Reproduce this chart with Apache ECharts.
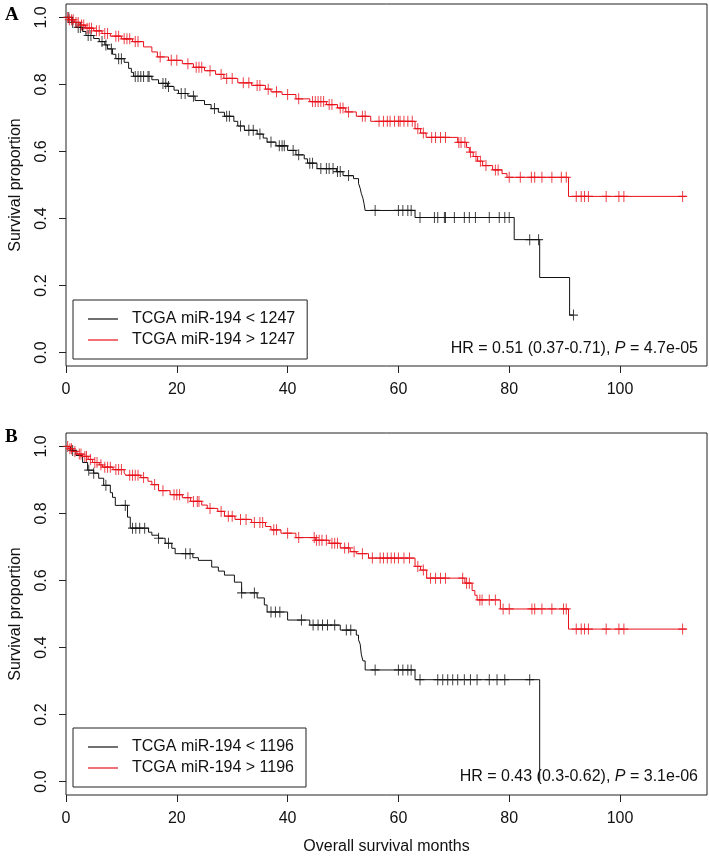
<!DOCTYPE html>
<html>
<head>
<meta charset="utf-8">
<script src="https://cdn.jsdelivr.net/npm/echarts@6/dist/echarts.min.js"></script>
<style>
  html, body { margin: 0; padding: 0; background: #fff; }
  #main { width: 709px; height: 856px; }
</style>
</head>
<body>
<div id="main"></div>
<script>
// tick labels
var xTicks = [0, 20, 40, 60, 80, 100];
var yTicks = [0, 0.2, 0.4, 0.6, 0.8, 1.0];

// panel A : events [months, survival after event], censor times, end of follow-up
var aLowName = 'TCGA miR-194 < 1247';
var aHighName = 'TCGA miR-194 > 1247';
var aLowEvents = [[1,0.985],[1.8,0.97],[3,0.958],[3.6,0.946],[5,0.937],[6,0.928],[7,0.918],[7.5,0.906],[8.4,0.89],[9,0.877],[10.5,0.866],[11.3,0.848],[11.8,0.836],[12.2,0.824],[15.5,0.814],[16.7,0.803],[18.3,0.794],[19.5,0.783],[20.3,0.773],[22,0.765],[23.3,0.752],[25,0.74],[26.2,0.728],[27.5,0.717],[28.6,0.705],[30.3,0.69],[31,0.676],[32.2,0.663],[34.5,0.652],[35.6,0.64],[36.3,0.628],[37.9,0.617],[40,0.603],[41.5,0.59],[43,0.578],[43.6,0.565],[45.3,0.549],[48.8,0.54],[50,0.528],[51.9,0.519],[52.8,0.505],[53.1,0.49],[53.3,0.475],[53.6,0.46],[53.8,0.444],[54,0.424],[63,0.403],[80.9,0.337],[85.5,0.224],[90.9,0.112]];
var aLowCensor = [0.5,1.2,2.2,2.6,4,4.5,6.5,7.2,8.2,9.5,10,12.5,13,13.5,14,14.8,15,17.5,18,18.5,20.8,21.5,23,26.8,29,29.5,31.5,33,33.8,35,37,38.5,39,39.4,41,42,44,44.5,46,47,47.5,48.2,49,49.5,51,55.8,60,60.8,61.7,62.3,63.9,66.5,67.1,68.3,68.5,70.1,71.9,72.8,73.9,76.4,78.2,79.2,80,83.7,85.3,91.6];
var aLowEnd = 91.6;
var aHighEvents = [[0.5,0.993],[1.5,0.985],[2.5,0.977],[3.5,0.968],[5,0.96],[6.5,0.952],[8,0.944],[10,0.936],[12,0.928],[14,0.912],[15.5,0.897],[16.5,0.882],[18.5,0.872],[21,0.862],[23,0.851],[25,0.841],[27,0.83],[28.5,0.818],[31,0.805],[33.5,0.797],[36,0.786],[37,0.778],[39,0.77],[41.5,0.757],[44,0.749],[47,0.74],[49,0.73],[50.5,0.718],[52.4,0.705],[55,0.69],[63,0.668],[64,0.655],[65,0.642],[70.7,0.627],[72.3,0.612],[72.8,0.598],[73.5,0.585],[74.3,0.571],[75.2,0.558],[77,0.545],[78.7,0.534],[79.6,0.523],[90.7,0.466]];
var aHighCensor = [0.3,0.6,1,1.3,1.8,2.2,2.8,3.2,3.8,4.2,4.6,5.5,6,7,7.5,9,9.5,10.5,11,11.5,12.5,13,17,19,20,22,23.5,24,24.5,26,28,29,30,32,33,34.5,35,36.5,38,40,42,44.5,45,45.5,46,46.5,47.5,48,49.5,50,51,53.5,54,56.5,57.3,58,58.5,59.3,60,60.3,61,61.7,62.5,63.5,64.5,66,66.7,67.6,68.5,70.9,71.3,72,73,74,74.8,75.8,77.5,78,80,82,84,84.6,85.9,87.7,89.4,90.3,92.1,93,93.6,94.3,97.5,99.8,100.7,111.3];
var aHighEnd = 112;

// panel B
var bLowName = 'TCGA miR-194 < 1196';
var bHighName = 'TCGA miR-194 > 1196';
var bLowEvents = [[0.8,0.988],[1.8,0.973],[3,0.952],[3.9,0.929],[5,0.92],[5.9,0.905],[6.8,0.884],[8,0.862],[8.4,0.848],[8.9,0.824],[11.1,0.789],[11.6,0.756],[14.9,0.744],[15.5,0.735],[16.7,0.726],[17.9,0.711],[19.1,0.696],[19.7,0.68],[22.9,0.668],[23.9,0.66],[26.3,0.64],[27.5,0.628],[28.6,0.616],[30.4,0.595],[31.7,0.563],[34.5,0.548],[35.8,0.527],[36.3,0.506],[40,0.482],[44,0.467],[49.5,0.452],[52.4,0.437],[52.8,0.423],[53.1,0.41],[53.3,0.38],[53.6,0.36],[54,0.333],[63,0.304],[85.5,0]];
var bLowCensor = [1.2,4.1,5,7.2,10.7,12,12.6,13.3,14.2,16.7,18.5,21.6,22.4,31.7,34,37,37.8,38.6,42.5,44.6,45.5,46.3,47.2,48.5,50.6,51.4,55.8,60,60.8,61.7,62.3,63.9,67.1,68,68.9,69.8,70.7,71.9,73,74.2,76.4,77.8,79.2,83.7];
var bLowEnd = 85.5;
var bHighEvents = [[0.5,0.993],[1.2,0.985],[2,0.977],[3,0.97],[4,0.961],[4.8,0.952],[6,0.945],[6.6,0.938],[8.5,0.931],[10.5,0.921],[10.8,0.914],[13.5,0.907],[14.8,0.896],[15.5,0.886],[16.7,0.868],[18.8,0.856],[21,0.847],[22.5,0.836],[24.5,0.825],[25.5,0.815],[27.4,0.806],[28.6,0.792],[30.5,0.782],[33.5,0.773],[36,0.761],[37,0.751],[38.8,0.741],[41.5,0.728],[45,0.72],[47.5,0.711],[49.5,0.697],[51.3,0.686],[52.4,0.68],[54.6,0.667],[63,0.642],[64,0.631],[65.1,0.607],[72,0.592],[73.3,0.57],[73.8,0.556],[74.2,0.542],[78.4,0.515],[90.7,0.455]];
var bHighCensor = [0.3,0.7,1,1.6,2.4,2.7,3.4,3.7,4.4,5.2,5.6,6.3,7,7.5,8,9,9.5,10,11.5,12,12.5,13,14,16,17.5,19.5,20,20.5,22,23,23.7,24,26,28,29.3,30,31.5,32.5,34,35,35.5,37.5,38,40,42,44.8,45.2,45.7,46.2,47,48,48.5,49,50.3,51,52,53.5,55.3,56.7,57.3,58,58.7,59.3,60,61,62,63.5,64.5,65.8,66.7,67.6,68.5,71.6,72.3,72.8,74.7,75.1,76.4,77.5,78.9,80,84.1,84.6,85.9,87.7,89.8,90.3,92.1,93,93.6,94.3,97.5,99.8,100.7,111.3];
var bHighEnd = 112;

var RED = '#e8101a';
var BLACK = '#111';
var FONT = 'Liberation Sans, Arial, sans-serif';

// KM step curve: start at 1, drop at each event, run on to the end
function stepData(events, end) {
    var d = [[0, 1]];
    events.forEach(function (e) { d.push([e[0], e[1]]); });
    var last = d[d.length - 1];
    if (end > last[0]) d.push([end, last[1]]);
    return d;
}

// censor mark sits on the curve at its time
function censorData(events, times) {
    return times.map(function (t) {
        var s = 1;
        for (var i = 0; i < events.length; i++) {
            if (events[i][0] <= t) s = events[i][1];
        }
        return [t, s];
    });
}

var plus = 'path://M0,5L10,5M5,0L5,10';

function curve(name, events, end, color, idx) {
    return {
        name: name,
        type: 'line',
        step: 'end',
        symbol: 'none',
        xAxisIndex: idx,
        yAxisIndex: idx,
        lineStyle: { color: color, width: 1 },
        itemStyle: { color: color },
        data: stepData(events, end),
        z: 2
    };
}

function marks(events, times, color, idx) {
    return {
        type: 'scatter',
        xAxisIndex: idx,
        yAxisIndex: idx,
        symbol: plus,
        symbolSize: [9, 11],
        itemStyle: { color: color, borderColor: color, borderWidth: 1.1 },
        data: censorData(events, times),
        silent: true,
        z: 3
    };
}

function xAxis(idx, withName) {
    return {
        type: 'value',
        gridIndex: idx,
        min: 0,
        max: 115.7,
        name: withName ? 'Overall survival months' : '',
        nameLocation: 'middle',
        nameGap: 44,
        nameTextStyle: { fontSize: 16, color: '#111', fontFamily: FONT },
        axisLine: { show: false, onZero: false },
        splitLine: { show: false },
        axisTick: { show: true, length: 7, customValues: xTicks, lineStyle: { color: '#222' } },
        axisLabel: { customValues: xTicks, fontSize: 16, color: '#111', fontFamily: FONT, margin: 16 }
    };
}

function yAxis(idx) {
    return {
        type: 'value',
        gridIndex: idx,
        min: -0.04,
        max: 1.04,
        name: 'Survival proportion',
        nameLocation: 'middle',
        nameGap: 42,
        nameTextStyle: { fontSize: 16, color: '#111', fontFamily: FONT },
        axisLine: { show: false, onZero: false },
        splitLine: { show: false },
        axisTick: { show: true, length: 7, customValues: yTicks, lineStyle: { color: '#222' } },
        axisLabel: {
            customValues: yTicks,
            rotate: 90,
            margin: 16,
            fontSize: 16,
            color: '#111',
            fontFamily: FONT,
            formatter: function (v) { return v.toFixed(1); }
        }
    };
}

function legend(top, names) {
    return {
        orient: 'vertical',
        left: 73,
        top: top,
        width: 234,
        padding: [11, 12, 11, 15],
        itemGap: 5,
        itemWidth: 30,
        itemHeight: 16,
        icon: 'path://M0,7.4L30,7.4L30,8.6L0,8.6Z',
        borderColor: '#222',
        borderWidth: 1,
        data: names,
        selectedMode: false,
        textStyle: { fontSize: 16, color: '#111', fontFamily: FONT, lineHeight: 16, padding: [0, 0, 0, 9] }
    };
}

function label(text, top) {
    return {
        type: 'text',
        left: 5,
        top: top,
        style: { text: text, font: 'bold 19px "Liberation Serif", serif', fill: '#000' }
    };
}

function hr(text, top) {
    return {
        type: 'text',
        right: 11,
        top: top,
        style: {
            text: text,
            fontSize: 16,
            fontFamily: FONT,
            fill: '#111',
            rich: { i: { fontStyle: 'italic', fontSize: 16, fontFamily: FONT, fill: '#111' } }
        }
    };
}

var myChart = echarts.init(document.getElementById('main'));
var option = {
    animation: false,
    backgroundColor: '#fff',
    grid: [
        { left: 60, top: 4, width: 647, height: 362, show: true, borderColor: '#222', borderWidth: 1 },
        { left: 60, top: 433, width: 647, height: 362, show: true, borderColor: '#222', borderWidth: 1 }
    ],
    xAxis: [xAxis(0, false), xAxis(1, true)],
    yAxis: [yAxis(0), yAxis(1)],
    legend: [
        legend(300, [aLowName, aHighName]),
        legend(728, [bLowName, bHighName])
    ],
    series: [
        curve(aLowName, aLowEvents, aLowEnd, BLACK, 0),
        curve(aHighName, aHighEvents, aHighEnd, RED, 0),
        marks(aLowEvents, aLowCensor, BLACK, 0),
        marks(aHighEvents, aHighCensor, RED, 0),
        curve(bLowName, bLowEvents, bLowEnd, BLACK, 1),
        curve(bHighName, bHighEvents, bHighEnd, RED, 1),
        marks(bLowEvents, bLowCensor, BLACK, 1),
        marks(bHighEvents, bHighCensor, RED, 1)
    ],
    graphic: [
        label('A', 6),
        label('B', 428),
        hr('HR = 0.51 (0.37-0.71), {i|P} = 4.7e-05', 341),
        hr('HR = 0.43 (0.3-0.62), {i|P} = 3.1e-06', 769)
    ]
};
myChart.setOption(option);
</script>
</body>
</html>
